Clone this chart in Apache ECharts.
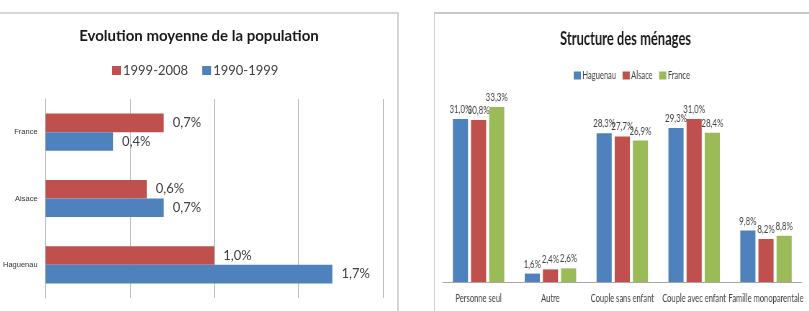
<!DOCTYPE html>
<html>
<head>
    <meta charset="UTF-8">
    <title>Population et ménages</title>
    <script src="https://cdn.jsdelivr.net/npm/echarts@6/dist/echarts.min.js"></script>
    <style>
        body { margin: 0; background: #fff; }
        #wrap { position: relative; width: 809px; height: 311px; overflow: hidden; }
        #gauche { position: absolute; left: 0; top: 0; width: 434px; height: 311px; }
        /* le graphique de droite est compressé horizontalement comme dans l'image d'origine */
        #droite { position: absolute; left: 434px; top: 0; width: 521px; height: 311px;
                  transform: scaleX(0.72); transform-origin: 0 0; }
    </style>
</head>
<body>
<div id="wrap">
    <div id="gauche"></div>
    <div id="droite"></div>
</div>
<script type="text/javascript">
    // évolution moyenne annuelle de la population (%)
    var zones = ['Haguenau', 'Alsace', 'France'];
    var evo9908 = [1.0, 0.6, 0.7];
    var evo9099 = [1.7, 0.7, 0.4];

    // structure des ménages (%)
    var typesMenage = ['Personne seul', 'Autre', 'Couple sans enfant', 'Couple avec enfant', 'Famille monoparentale'];
    var menHaguenau = [31.0, 1.6, 28.3, 29.3, 9.8];
    var menAlsace = [30.8, 2.4, 27.7, 31.0, 8.2];
    var menFrance = [33.3, 2.6, 26.9, 28.4, 8.8];

    var pct = function (p) { return p.value.toFixed(1).replace('.', ',') + '%'; };

    // ---- graphique de gauche ----
    var chartG = echarts.init(document.getElementById('gauche'));
    var lblG = {show: true, position: 'right', distance: 9, fontSize: 13, color: '#404040', fontFamily: 'Lato', formatter: pct};

    chartG.setOption({
        animation: false,
        graphic: [
            {type: 'rect', shape: {x: -2, y: 13, width: 400, height: 310}, style: {fill: 'none', stroke: '#C8C8C8', lineWidth: 1.5}}
        ],
        title: {
            text: 'Evolution moyenne de la population',
            left: 194, top: 24, textAlign: 'center',
            textStyle: {fontSize: 15, fontWeight: 'bold', fontFamily: 'Lato', color: '#1a1a1a'}
        },
        legend: {
            data: ['1999-2008', '1990-1999'],
            left: 107, top: 59,
            icon: 'rect', itemWidth: 9, itemHeight: 9, itemGap: 14,
            textStyle: {fontSize: 13, fontFamily: 'Lato', color: '#404040', padding: [0, 0, 0, -3]}
        },
        grid: {left: 45, right: 51, top: 99, bottom: 13},
        xAxis: {
            type: 'value', min: 0, max: 2, interval: 0.5,
            axisLabel: {show: false}, axisLine: {show: false}, axisTick: {show: false},
            splitLine: {lineStyle: {color: '#BFBFBF'}}
        },
        yAxis: {
            type: 'category', data: zones,
            axisLine: {lineStyle: {color: '#BFBFBF'}}, axisTick: {show: false},
            axisLabel: {fontSize: 7.5, color: '#333', margin: 8}
        },
        series: [
            {
                name: '1999-2008', type: 'bar', data: evo9908, itemStyle: {color: '#C0504D'},
                barGap: '0%', barCategoryGap: '44%', label: lblG
            },
            {
                name: '1990-1999', type: 'bar', data: evo9099, itemStyle: {color: '#4F81BD'},
                barGap: '0%', barCategoryGap: '44%', label: lblG
            }
        ]
    });

    // ---- graphique de droite ----
    var chartD = echarts.init(document.getElementById('droite'));
    var lblD = {show: true, position: 'top', distance: 4, fontSize: 11, color: '#404040', fontFamily: 'Lato', formatter: pct};

    chartD.setOption({
        animation: false,
        graphic: [
            {type: 'rect', shape: {x: 0, y: 13, width: 600, height: 310}, style: {fill: 'none', stroke: '#C8C8C8', lineWidth: 2}}
        ],
        title: {
            text: 'Structure des ménages',
            left: 261, top: 25, textAlign: 'center',
            textStyle: {fontSize: 18, fontWeight: 'bold', fontFamily: 'Lato', color: '#1a1a1a'}
        },
        legend: {
            data: ['Haguenau', 'Alsace', 'France'],
            left: 189, top: 65,
            icon: 'rect', itemWidth: 10, itemHeight: 8, itemGap: 9,
            textStyle: {fontSize: 10.5, fontFamily: 'Lato', color: '#404040', padding: [0, 0, 0, -3]}
        },
        grid: {left: 12, right: 10, top: 98, bottom: 29},
        xAxis: {
            type: 'category', data: typesMenage,
            axisLine: {lineStyle: {color: '#A6A6A6'}}, axisTick: {show: false},
            axisLabel: {fontSize: 10.5, fontFamily: 'Lato', color: '#404040', margin: 11, interval: 0}
        },
        yAxis: {type: 'value', min: 0, max: 35, show: false},
        series: [
            {name: 'Haguenau', type: 'bar', data: menHaguenau, itemStyle: {color: '#4F81BD'}, barWidth: 21, barGap: '20%', label: lblD},
            {name: 'Alsace', type: 'bar', data: menAlsace, itemStyle: {color: '#C0504D'}, barWidth: 21, barGap: '20%', label: lblD},
            {name: 'France', type: 'bar', data: menFrance, itemStyle: {color: '#9BBB59'}, barWidth: 21, barGap: '20%', label: lblD}
        ]
    });
</script>
</body>
</html>
